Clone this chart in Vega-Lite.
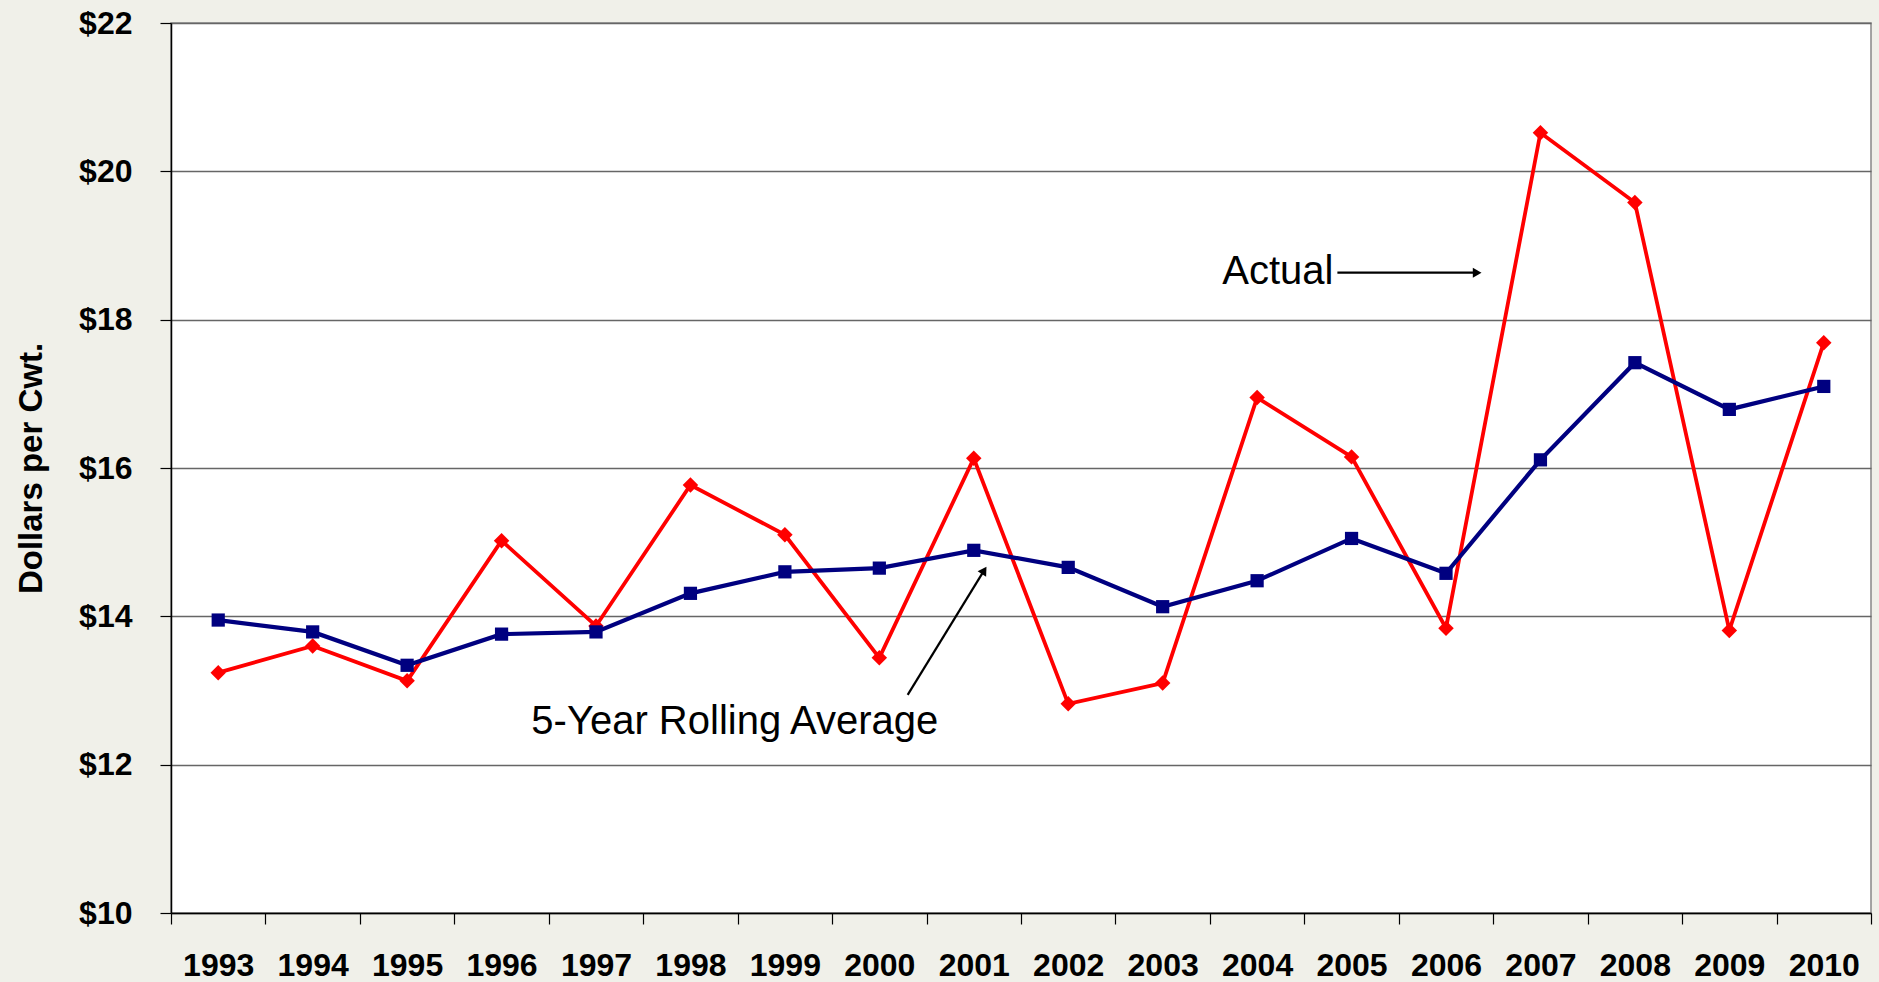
{
  "$schema": "https://vega.github.io/schema/vega-lite/v6.json",
  "width": 1700,
  "height": 890,
  "autosize": "none",
  "padding": {"left": 171, "top": 23, "right": 8, "bottom": 69},
  "background": "#f0f0e9",
  "config": {
    "view": {"stroke": "#888888", "strokeWidth": 1.5, "fill": "white"},
    "font": "Liberation Sans"
  },
  "datasets": {
    "prices": [
      {"year": 1993, "series": "Actual", "value": 13.24},
      {"year": 1994, "series": "Actual", "value": 13.60},
      {"year": 1995, "series": "Actual", "value": 13.13},
      {"year": 1996, "series": "Actual", "value": 15.02},
      {"year": 1997, "series": "Actual", "value": 13.87},
      {"year": 1998, "series": "Actual", "value": 15.77},
      {"year": 1999, "series": "Actual", "value": 15.10},
      {"year": 2000, "series": "Actual", "value": 13.44},
      {"year": 2001, "series": "Actual", "value": 16.13},
      {"year": 2002, "series": "Actual", "value": 12.82},
      {"year": 2003, "series": "Actual", "value": 13.10},
      {"year": 2004, "series": "Actual", "value": 16.95},
      {"year": 2005, "series": "Actual", "value": 16.15},
      {"year": 2006, "series": "Actual", "value": 13.84},
      {"year": 2007, "series": "Actual", "value": 20.52},
      {"year": 2008, "series": "Actual", "value": 19.58},
      {"year": 2009, "series": "Actual", "value": 13.81},
      {"year": 2010, "series": "Actual", "value": 17.69},
      {"year": 1993, "series": "Average", "value": 13.95},
      {"year": 1994, "series": "Average", "value": 13.79},
      {"year": 1995, "series": "Average", "value": 13.34},
      {"year": 1996, "series": "Average", "value": 13.76},
      {"year": 1997, "series": "Average", "value": 13.79},
      {"year": 1998, "series": "Average", "value": 14.31},
      {"year": 1999, "series": "Average", "value": 14.60},
      {"year": 2000, "series": "Average", "value": 14.65},
      {"year": 2001, "series": "Average", "value": 14.89},
      {"year": 2002, "series": "Average", "value": 14.66},
      {"year": 2003, "series": "Average", "value": 14.13},
      {"year": 2004, "series": "Average", "value": 14.48},
      {"year": 2005, "series": "Average", "value": 15.05},
      {"year": 2006, "series": "Average", "value": 14.58},
      {"year": 2007, "series": "Average", "value": 16.11},
      {"year": 2008, "series": "Average", "value": 17.42},
      {"year": 2009, "series": "Average", "value": 16.79},
      {"year": 2010, "series": "Average", "value": 17.10}
    ],
    "labels": [
      {"text": "Actual", "year": 2004.22, "value": 18.485},
      {"text": "5-Year Rolling Average", "year": 1998.47, "value": 12.42}
    ],
    "arrows": [
      {"year": 2004.85, "value": 18.633, "year2": 2006.3, "value2": 18.633},
      {"year": 2000.30, "value": 12.94, "year2": 2001.1, "value2": 14.6}
    ],
    "heads": [
      {"year": 2006.33, "value": 18.633, "angle": 90},
      {"year": 2001.11, "value": 14.62, "angle": 32}
    ]
  },
  "layer": [
    {
      "data": {"name": "prices"},
      "transform": [{"filter": "datum.series === 'Actual'"}],
      "mark": {"type": "line", "color": "#ff0000", "strokeWidth": 3.8, "point": {"shape": "diamond", "size": 240, "color": "#ff0000", "filled": true}},
      "encoding": {
        "x": {
          "field": "year", "type": "quantitative",
          "scale": {"domain": [1992.5, 2010.5], "nice": false, "zero": false},
          "axis": {
            "title": null,
            "values": [1992.5, 1993.5, 1994.5, 1995.5, 1996.5, 1997.5, 1998.5, 1999.5, 2000.5, 2001.5, 2002.5, 2003.5, 2004.5, 2005.5, 2006.5, 2007.5, 2008.5, 2009.5, 2010.5],
            "labelExpr": "datum.value < 2010 ? '' + (datum.value + 0.5) : ''",
            "labelOffset": 47.2,
            "labelOverlap": false,
            "labelFlush": false,
            "labelBound": false,
            "labelFont": "Liberation Sans",
            "labelFontWeight": "bold",
            "labelFontSize": 32,
            "labelColor": "black",
            "labelPadding": 26,
            "tickSize": 11,
            "tickColor": "black",
            "tickWidth": 1.2,
            "domainColor": "black",
            "domainWidth": 1.5,
            "grid": false
          }
        },
        "y": {
          "field": "value", "type": "quantitative",
          "scale": {"domain": [10, 22], "nice": false, "zero": false},
          "axis": {
            "title": "Dollars per Cwt.",
            "titleFont": "Liberation Sans",
            "titleFontWeight": "bold",
            "titleFontSize": 33,
            "titleColor": "black",
            "titlePadding": 30,
            "values": [10, 12, 14, 16, 18, 20, 22],
            "labelExpr": "'$' + datum.value",
            "labelFont": "Liberation Sans",
            "labelFontWeight": "bold",
            "labelFontSize": 32,
            "labelColor": "black",
            "labelPadding": 28,
            "tickSize": 11,
            "tickColor": "black",
            "tickWidth": 1.2,
            "domainColor": "black",
            "domainWidth": 1.5,
            "grid": true,
            "gridColor": "#666666",
            "gridWidth": 1.3
          }
        }
      }
    },
    {
      "data": {"name": "prices"},
      "transform": [{"filter": "datum.series === 'Average'"}],
      "mark": {"type": "line", "color": "#000080", "strokeWidth": 4.2, "point": {"shape": "square", "size": 175, "color": "#000080", "filled": true}},
      "encoding": {
        "x": {"field": "year", "type": "quantitative"},
        "y": {"field": "value", "type": "quantitative"}
      }
    },
    {
      "data": {"name": "arrows"},
      "mark": {"type": "rule", "color": "black", "strokeWidth": 2.2},
      "encoding": {
        "x": {"field": "year", "type": "quantitative"},
        "y": {"field": "value", "type": "quantitative"},
        "x2": {"field": "year2"},
        "y2": {"field": "value2"}
      }
    },
    {
      "data": {"name": "heads"},
      "mark": {"type": "point", "shape": "triangle-up", "filled": true, "color": "black", "size": 100, "opacity": 1},
      "encoding": {
        "x": {"field": "year", "type": "quantitative"},
        "y": {"field": "value", "type": "quantitative"},
        "angle": {"field": "angle", "type": "quantitative", "scale": null}
      }
    },
    {
      "data": {"name": "labels"},
      "mark": {"type": "text", "font": "Liberation Sans", "fontSize": 40, "color": "black", "baseline": "alphabetic", "align": "center"},
      "encoding": {
        "x": {"field": "year", "type": "quantitative"},
        "y": {"field": "value", "type": "quantitative"},
        "text": {"field": "text"}
      }
    }
  ]
}
